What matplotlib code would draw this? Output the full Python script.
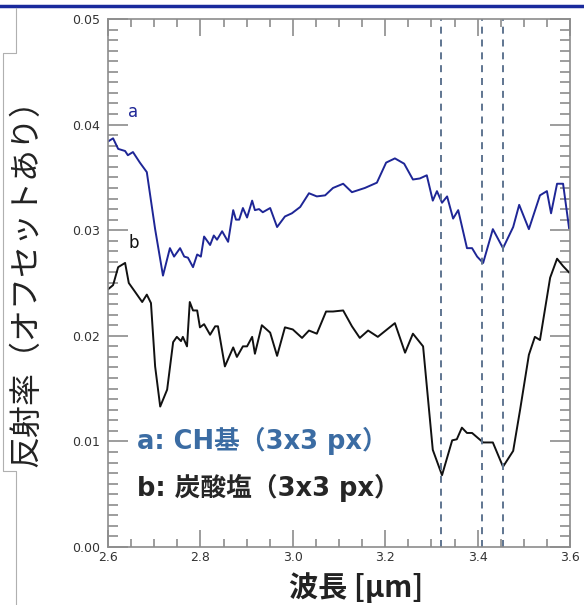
import matplotlib
matplotlib.use('Agg')
import matplotlib.pyplot as plt
from matplotlib.ticker import MultipleLocator
from matplotlib.lines import Line2D

# spectrum a (CH group)
wave_a = [2.600, 2.611, 2.622, 2.637, 2.643, 2.654, 2.669, 2.684, 2.702, 2.719,
          2.734, 2.743, 2.756, 2.765, 2.773, 2.784, 2.793, 2.801, 2.808, 2.821,
          2.829, 2.836, 2.847, 2.860, 2.871, 2.877, 2.884, 2.892, 2.901, 2.912,
          2.918, 2.927, 2.935, 2.951, 2.966, 2.983, 2.998, 3.016, 3.035, 3.052,
          3.070, 3.087, 3.109, 3.128, 3.156, 3.182, 3.202, 3.221, 3.241, 3.260,
          3.275, 3.290, 3.303, 3.312, 3.323, 3.334, 3.347, 3.358, 3.377, 3.388,
          3.399, 3.412, 3.433, 3.455, 3.477, 3.490, 3.511, 3.535, 3.550, 3.559,
          3.572, 3.585, 3.598]
refl_a = [0.0384, 0.0387, 0.0377, 0.0375, 0.0371, 0.0374, 0.0364, 0.0355, 0.0301, 0.0257,
          0.0283, 0.0275, 0.0283, 0.0275, 0.0274, 0.0265, 0.0277, 0.0275, 0.0294, 0.0286,
          0.0295, 0.0291, 0.0299, 0.0289, 0.0319, 0.0310, 0.0310, 0.0321, 0.0312, 0.0328,
          0.0319, 0.0320, 0.0317, 0.0321, 0.0303, 0.0313, 0.0316, 0.0322, 0.0335, 0.0332,
          0.0333, 0.0340, 0.0344, 0.0336, 0.0340, 0.0345, 0.0364, 0.0368, 0.0363, 0.0348,
          0.0349, 0.0352, 0.0328, 0.0337, 0.0326, 0.0332, 0.0311, 0.0319, 0.0283, 0.0283,
          0.0275, 0.0269, 0.0301, 0.0283, 0.0303, 0.0324, 0.0301, 0.0333, 0.0337, 0.0316,
          0.0344, 0.0344, 0.0302]

# spectrum b (carbonate)
wave_b = [2.600, 2.611, 2.622, 2.637, 2.645, 2.658, 2.674, 2.684, 2.693, 2.702,
          2.713, 2.728, 2.741, 2.749, 2.758, 2.762, 2.771, 2.777, 2.784, 2.793,
          2.799, 2.808, 2.821, 2.832, 2.838, 2.853, 2.871, 2.879, 2.892, 2.901,
          2.912, 2.918, 2.933, 2.951, 2.966, 2.983, 3.000, 3.020, 3.035, 3.052,
          3.072, 3.087, 3.109, 3.128, 3.145, 3.163, 3.184, 3.221, 3.243, 3.260,
          3.282, 3.303, 3.323, 3.345, 3.355, 3.366, 3.377, 3.388, 3.412, 3.433,
          3.455, 3.477, 3.492, 3.511, 3.524, 3.535, 3.557, 3.572, 3.585, 3.598]
refl_b = [0.0244, 0.0248, 0.0265, 0.0269, 0.0250, 0.0242, 0.0232, 0.0239, 0.0231, 0.0171,
          0.0133, 0.0149, 0.0194, 0.0199, 0.0195, 0.0199, 0.0190, 0.0232, 0.0224, 0.0224,
          0.0208, 0.0211, 0.0201, 0.0209, 0.0209, 0.0171, 0.0189, 0.0180, 0.0190, 0.0190,
          0.0199, 0.0183, 0.0210, 0.0203, 0.0181, 0.0208, 0.0206, 0.0198, 0.0205, 0.0202,
          0.0223, 0.0223, 0.0224, 0.0209, 0.0198, 0.0205, 0.0199, 0.0212, 0.0184, 0.0202,
          0.0190, 0.0092, 0.0068, 0.0101, 0.0102, 0.0113, 0.0108, 0.0108, 0.0099, 0.0099,
          0.0076, 0.0091, 0.0130, 0.0182, 0.0199, 0.0196, 0.0255, 0.0273, 0.0266, 0.0260]

# absorption positions
band_lines = [3.321, 3.410, 3.455]

legend_a = 'a: CH基（3x3 px）'
legend_b = 'b: 炭酸塩（3x3 px）'

jp = ['Noto Sans CJK JP', 'DejaVu Sans']
wide = ['DejaVu Sans', 'Noto Sans CJK JP']
frame_gray = '#8c8c8c'

fig = plt.figure(figsize=(5.84, 6.05), dpi=100)
ax = fig.add_axes([108/584, 1 - 547/605, 462/584, 528/605])

ax.plot(wave_a, refl_a, color='#1e2696', lw=1.4)
ax.plot(wave_b, refl_b, color='#111111', lw=1.4)
for w in band_lines:
    ax.axvline(w, color='#5f7590', lw=1.4, ls=(0, (3.6, 3)))

ax.set_xlim(2.6, 3.6)
ax.set_ylim(0.0, 0.05)

ax.xaxis.set_minor_locator(MultipleLocator(0.05))
ax.yaxis.set_minor_locator(MultipleLocator(0.001))
ax.set_xticks([2.6, 2.8, 3.0, 3.2, 3.4, 3.6])
ax.set_xticklabels(['2.6', '2.8', '3.0', '3.2', '3.4', '3.6'])
ax.set_yticks([0.0, 0.01, 0.02, 0.03, 0.04, 0.05])
ax.set_yticklabels(['0.00', '0.01', '0.02', '0.03', '0.04', '0.05'])

ax.tick_params(axis='both', which='both', direction='in', top=True, right=True,
               color=frame_gray, width=1.2, labelcolor='#333333', labelsize=9)
ax.tick_params(axis='x', which='major', length=12, pad=3)
ax.tick_params(axis='x', which='minor', length=6)
ax.tick_params(axis='y', which='major', length=14.5, pad=6)
ax.tick_params(axis='y', which='minor', length=7.5)
for lab in ax.get_xticklabels() + ax.get_yticklabels():
    lab.set_fontfamily('DejaVu Sans')
for sp in ax.spines.values():
    sp.set_color(frame_gray)
    sp.set_linewidth(1.2)

# curve tags
ax.text(2.644, 0.0407, 'a', color='#1e2696', fontsize=12, family='DejaVu Sans')
ax.text(2.644, 0.0283, 'b', color='#111111', fontsize=12, family='DejaVu Sans')

# legend text
ax.text(2.663, 0.0100, legend_a, color='#3b6ca3', fontsize=18.5,
        fontweight='bold', family=wide, va='center')
ax.text(2.663, 0.0056, legend_b, color='#262626', fontsize=18.5,
        fontweight='bold', family=wide, va='center')

ax.set_ylabel('反射率（オフセットあり）', family=jp, fontsize=23, color='#222222')
ax.yaxis.set_label_coords(-0.142, 0.515)
fig.text(356/584, 1 - 588/605, '波長 [μm]', family=jp, fontsize=21,
         fontweight='bold', color='#222222', ha='center', va='center')

# slide frame
fig.add_artist(Line2D([0, 1], [1 - 6/605, 1 - 6/605], color='#1a2a9c', lw=2.5,
                      transform=fig.transFigure))
gx = [16/584, 16/584, 3/584, 3/584, 16/584, 16/584]
gy = [1 - 8/605, 1 - 53/605, 1 - 53/605, 1 - 471/605, 1 - 471/605, 0]
fig.add_artist(Line2D(gx, gy, color='#b0b0b0', lw=0.8, transform=fig.transFigure))

fig.savefig('out.png', dpi=100)
